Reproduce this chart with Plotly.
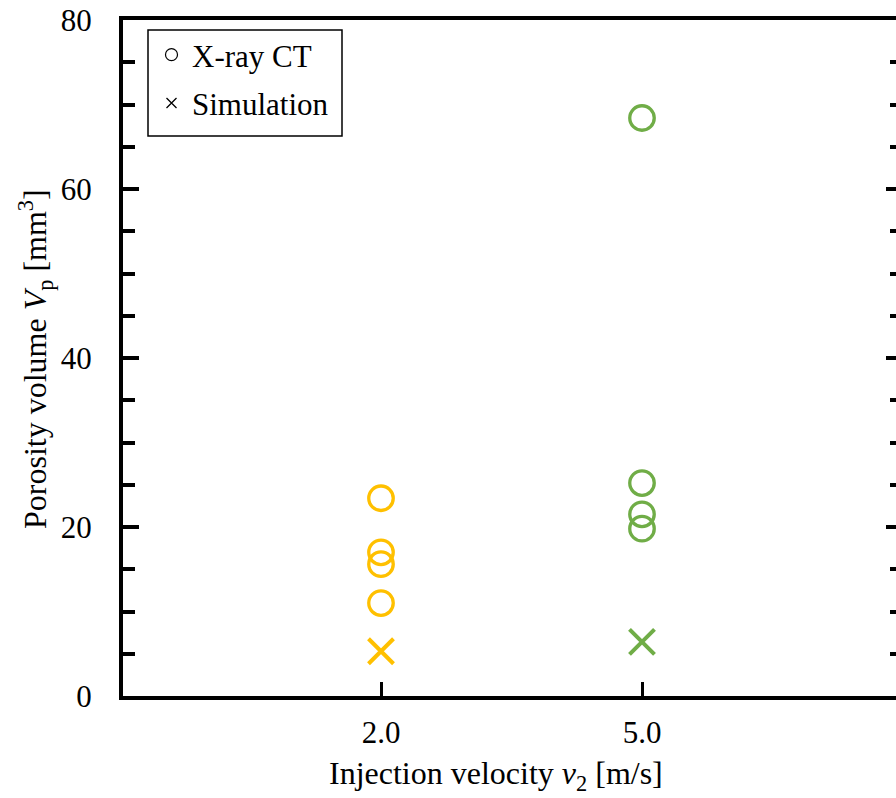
import plotly.graph_objects as go

# ---- data ----
categories = ["2.0", "5.0"]
ct_v2_0 = [23.4, 17.0, 15.6, 11.0]     # X-ray CT, v2 = 2.0 m/s
ct_v5_0 = [68.4, 25.2, 21.5, 19.8]     # X-ray CT, v2 = 5.0 m/s
sim_v2_0 = [5.3]                        # Simulation, v2 = 2.0 m/s
sim_v5_0 = [6.4]                        # Simulation, v2 = 5.0 m/s
y_ticks = [0, 20, 40, 60, 80]
y_minor_ticks = [5, 10, 15, 25, 30, 35, 45, 50, 55, 65, 70, 75]

YELLOW = "#FFC000"
GREEN = "#70AD47"
FONT = 'Liberation Serif, "Times New Roman", Times, "DejaVu Serif", serif'
FS = 31
FS_TITLE = 32

fig = go.Figure()

fig.add_trace(go.Scatter(x=[categories[0]] * len(ct_v2_0), y=ct_v2_0, mode="markers",
                         marker=dict(symbol="circle-open", size=24.5, color=YELLOW, line=dict(width=3.3, color=YELLOW)),
                         showlegend=False))
fig.add_trace(go.Scatter(x=[categories[1]] * len(ct_v5_0), y=ct_v5_0, mode="markers",
                         marker=dict(symbol="circle-open", size=24.5, color=GREEN, line=dict(width=3.3, color=GREEN)),
                         showlegend=False))
fig.add_trace(go.Scatter(x=[categories[0]] * len(sim_v2_0), y=sim_v2_0, mode="markers",
                         marker=dict(symbol="x-thin-open", size=25, color=YELLOW, line=dict(width=4, color=YELLOW)),
                         showlegend=False))
fig.add_trace(go.Scatter(x=[categories[1]] * len(sim_v5_0), y=sim_v5_0, mode="markers",
                         marker=dict(symbol="x-thin-open", size=25, color=GREEN, line=dict(width=4, color=GREEN)),
                         showlegend=False))

# legend-only traces
fig.add_trace(go.Scatter(x=[None], y=[None], mode="markers", name="X-ray CT", legendgroup="a",
                         marker=dict(symbol="circle-open", size=12, color="black", line=dict(width=1.2, color="black"))))
fig.add_trace(go.Scatter(x=[None], y=[None], mode="markers", name="Simulation", legendgroup="b",
                         marker=dict(symbol="x-thin-open", size=10, color="black", line=dict(width=1.3, color="black"))))

# dummy traces for right-side tick axes
fig.add_trace(go.Scatter(x=[None], y=[None], yaxis="y2", showlegend=False, hoverinfo="skip"))
fig.add_trace(go.Scatter(x=[None], y=[None], yaxis="y3", showlegend=False, hoverinfo="skip"))

W, H = 896, 798
L, R, T, B = 123, 0, 20, 798 - 696
pw = W - L - R
ph = H - T - B

def fx(page_x):
    return (page_x - L) / pw

def fy(page_y):
    return (H - B - page_y) / ph

px_per_cat = 261
r0 = -(381 - 123) / px_per_cat
r1 = r0 + (896 - 123) / px_per_cat

right_axis = dict(range=[0, 80], overlaying="y", side="right", tickmode="array",
                  showticklabels=False, showgrid=False, zeroline=False, showline=False,
                  ticks="inside", tickwidth=3.5, tickcolor="black")

fig.update_layout(
    width=W, height=H,
    margin=dict(l=L, r=R, t=T, b=B, autoexpand=False),
    paper_bgcolor="white", plot_bgcolor="white",
    font=dict(family=FONT, size=FS, color="black"),
    showlegend=True,
    legend=dict(x=fx(151), y=fy(28), xanchor="left", yanchor="top",
                bgcolor="rgba(0,0,0,0)", borderwidth=0,
                font=dict(family=FONT, size=FS, color="black"),
                traceorder="grouped", tracegroupgap=5, itemwidth=31),
    shapes=[dict(type="rect", xref="paper", yref="paper",
                 x0=fx(148), x1=fx(342), y0=fy(136), y1=fy(30),
                 line=dict(color="black", width=1.5), fillcolor="white", layer="above")],
    xaxis=dict(type="category", categoryorder="array", categoryarray=categories,
               range=[r0, r1], showgrid=False, zeroline=False,
               showline=True, linecolor="black", linewidth=4, mirror=True,
               ticks="inside", ticklen=14, tickwidth=3, tickcolor="black",
               ticklabelstandoff=6,
               tickfont=dict(family=FONT, size=FS, color="black")),
    yaxis=dict(range=[0, 80], tickmode="array", tickvals=y_ticks, ticktext=[str(v) for v in y_ticks],
               showgrid=False, zeroline=False,
               showline=True, linecolor="black", linewidth=4, mirror=False,
               ticks="inside", ticklen=16, tickwidth=3.5, tickcolor="black",
               ticklabelstandoff=21, ticklabeloverflow="allow",
               minor=dict(tickvals=y_minor_ticks, ticks="inside", ticklen=12, tickwidth=3.5,
                          tickcolor="black", showgrid=False),
               tickfont=dict(family=FONT, size=FS, color="black")),
    yaxis2=dict(right_axis, tickvals=y_minor_ticks, ticklen=6),
    yaxis3=dict(right_axis, tickvals=y_ticks, ticklen=10),
    annotations=[
        dict(text="Injection velocity <i>v</i><sub>2</sub> [m/s]", xref="paper", yref="paper",
             x=fx(496), y=fy(775), xanchor="center", yanchor="middle",
             showarrow=False, font=dict(family=FONT, size=FS_TITLE, color="black")),
        dict(text="Porosity volume <i>V</i><sub>p</sub> [mm<sup>3</sup>]", xref="paper", yref="paper",
             x=fx(35), y=fy(359), xanchor="center", yanchor="middle",
             textangle=-90, showarrow=False, font=dict(family=FONT, size=FS_TITLE, color="black")),
    ],
)

fig.write_html(
    "out.html",
    config={"displayModeBar": False},
    post_script="document.body.style.margin='0';document.body.style.overflow='hidden';"
                "document.documentElement.style.overflow='hidden';",
)
